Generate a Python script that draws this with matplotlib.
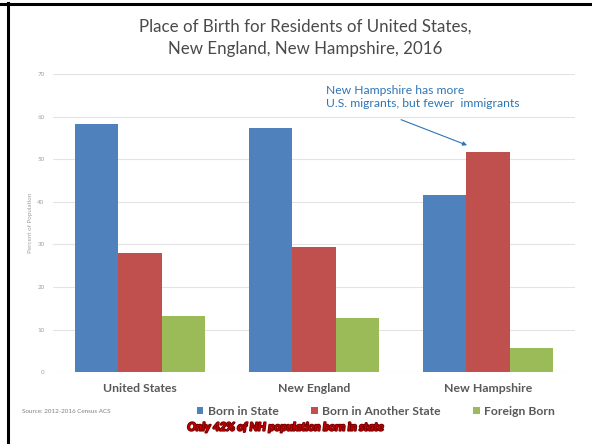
import matplotlib
matplotlib.use("Agg")
import matplotlib.pyplot as plt
import matplotlib.patheffects as pe
import numpy as np

# data
regions = ["United States", "New England", "New Hampshire"]
born_in_state = [58.3, 57.3, 41.7]
born_other_state = [28.0, 29.4, 51.6]
foreign_born = [13.2, 12.7, 5.6]
series_names = ["Born in State", "Born in Another State", "Foreign Born"]
colors = ["#4f81bd", "#c0504d", "#9bbb59"]

plt.rcParams["font.family"] = ["Lato", "DejaVu Sans"]

fig = plt.figure(figsize=(5.92, 4.44), dpi=100)
ax = fig.add_axes([0.0895, 0.162, 0.882, 0.671])

x = np.arange(len(regions))
w = 0.25
bars = []
for i, vals in enumerate([born_in_state, born_other_state, foreign_born]):
    b = ax.bar(x + (i - 1) * w, vals, w, color=colors[i], zorder=3)
    bars.append(b)

ax.set_xlim(-0.5, 2.5)
ax.set_ylim(0, 70)
ax.set_yticks(range(0, 71, 10))
ax.yaxis.grid(True, color="#e3e3e3", linewidth=0.8, zorder=0)
for s in ax.spines.values():
    s.set_visible(False)
ax.tick_params(axis="y", length=0, labelsize=4.5, labelcolor="#a0a0a0", pad=6)
ax.tick_params(axis="x", length=0, pad=8)
ax.set_xticks(x)
ax.set_xticklabels(regions, fontsize=8.8, fontweight="bold", color="#595959")
ax.set_ylabel("Percent of Population", fontsize=4.5, color="#a0a0a0", labelpad=3)

fig.text(0.515, 0.915, "Place of Birth for Residents of United States,\nNew England, New Hampshire, 2016",
         ha="center", va="center", fontsize=12.2, color="#4a4a4a", linespacing=1.45)

ax.text(1.07, 67.5, "New Hampshire has more\nU.S. migrants, but fewer  immigrants",
        ha="left", va="top", fontsize=8.7, color="#2e75b6", linespacing=1.2)
ax.annotate("", xy=(1.879, 53.3), xytext=(1.50, 59.3), textcoords="data",
            arrowprops=dict(arrowstyle="-|>", color="#2e75b6", lw=0.8,
                            shrinkA=0, shrinkB=0, mutation_scale=6))

leg = fig.legend(bars, series_names, loc="center", bbox_to_anchor=(0.635, 0.074),
                 ncol=3, frameon=False, fontsize=8.7, handlelength=0.55, handleheight=0.55,
                 columnspacing=2.7, handletextpad=0.35)
for t in leg.get_texts():
    t.set_color("#595959")
    t.set_fontweight("bold")

fig.text(0.037, 0.074, "Source: 2012-2016 Census ACS", fontsize=4.5, color="#808080",
         ha="left", va="center")

fig.text(0.482, 0.038, "Only 42% of NH population born in state", fontsize=8.2,
         fontweight="bold", fontstyle="italic", color="#c00000", ha="center", va="center",
         path_effects=[pe.withStroke(linewidth=1.4, foreground="#7a0000")])

# slide frame: top and left black lines
fig.add_artist(plt.Line2D([0, 1], [1 - 4.5 / 444] * 2, color="black", lw=2.2,
                          transform=fig.transFigure))
fig.add_artist(plt.Line2D([8 / 592] * 2, [0, 1 - 3 / 444], color="black", lw=2.2,
                          transform=fig.transFigure))

fig.savefig("out.png", dpi=100)
